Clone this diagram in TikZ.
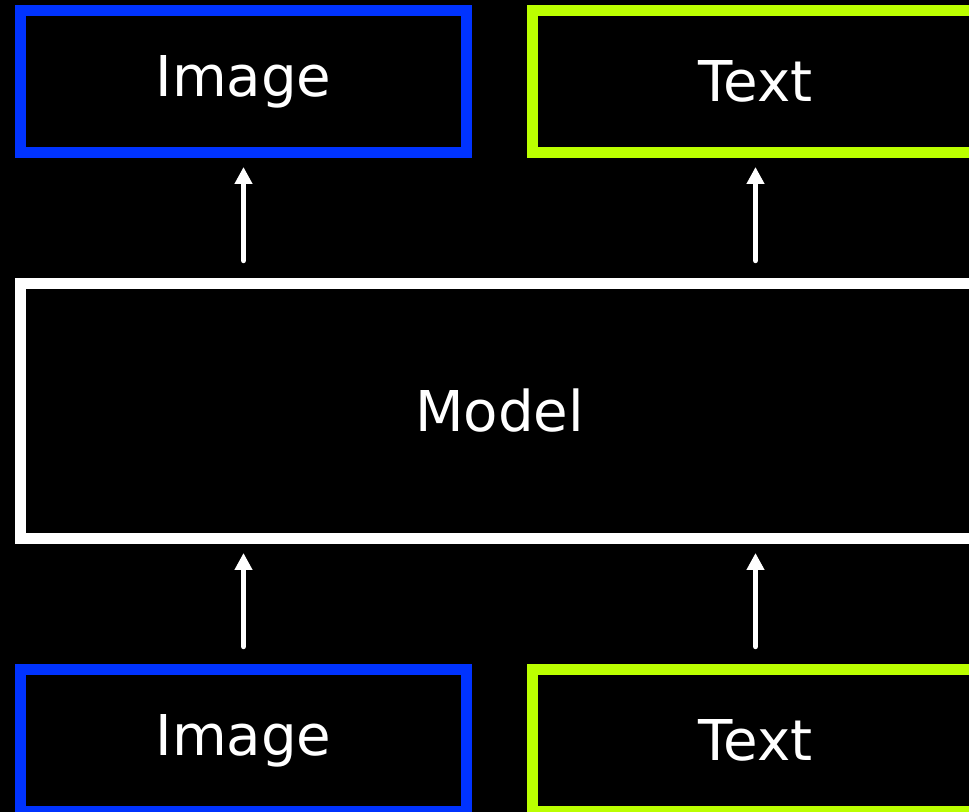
\documentclass[tikz,border=0pt]{standalone}
\usepackage{fontspec}
\setmainfont{DejaVu Sans}
\usetikzlibrary{positioning, arrows.meta}
\definecolor{imgblue}{RGB}{0,51,255}
\definecolor{txtgreen}{RGB}{187,255,0}
\tikzset{
    every node/.style={text=white, font=\fontsize{16pt}{19pt}\selectfont}, % white labels everywhere
    box/.style={draw, line width=0.11cm, inner sep=0pt, outer sep=0pt,
        minimum width=4.46cm, minimum height=1.42cm}, % thick frame, sizes taken from the border line
    imgbox/.style={box, draw=imgblue},
    txtbox/.style={box, draw=txtgreen},
    modelbox/.style={box, draw=white, minimum width=9.58cm, minimum height=2.55cm},
    flow/.style={-{Triangle[width=0.17cm, length=0.17cm]}, white, line width=0.055cm,
        line cap=round, shorten <=0.23cm, shorten >=0.145cm}, % upward data flow
    }

\begin{document}
\begin{tikzpicture}
\useasboundingbox[fill=black] (0,0) rectangle (9.69,-8.12);
\clip (0,0) rectangle (9.69,-8.12);

% outputs
\node[imgbox] (imgout) at (2.435,-0.815) {Image};
\node[txtbox, right=0.66cm of imgout] (txtout) {Text};

\node[modelbox, below=1.31cm of imgout.south west, anchor=north west] (model) {Model};

% inputs
\node[imgbox, below=1.31cm of model.south west, anchor=north west] (imgin) {Image};
\node[txtbox, right=0.66cm of imgin] (txtin) {Text};

\draw[flow] (imgin) -- (model.south -| imgin);
\draw[flow] (txtin) -- (model.south -| txtin);
\draw[flow] (model.north -| imgout) -- (imgout);
\draw[flow] (model.north -| txtout) -- (txtout);

\end{tikzpicture}
\end{document}
